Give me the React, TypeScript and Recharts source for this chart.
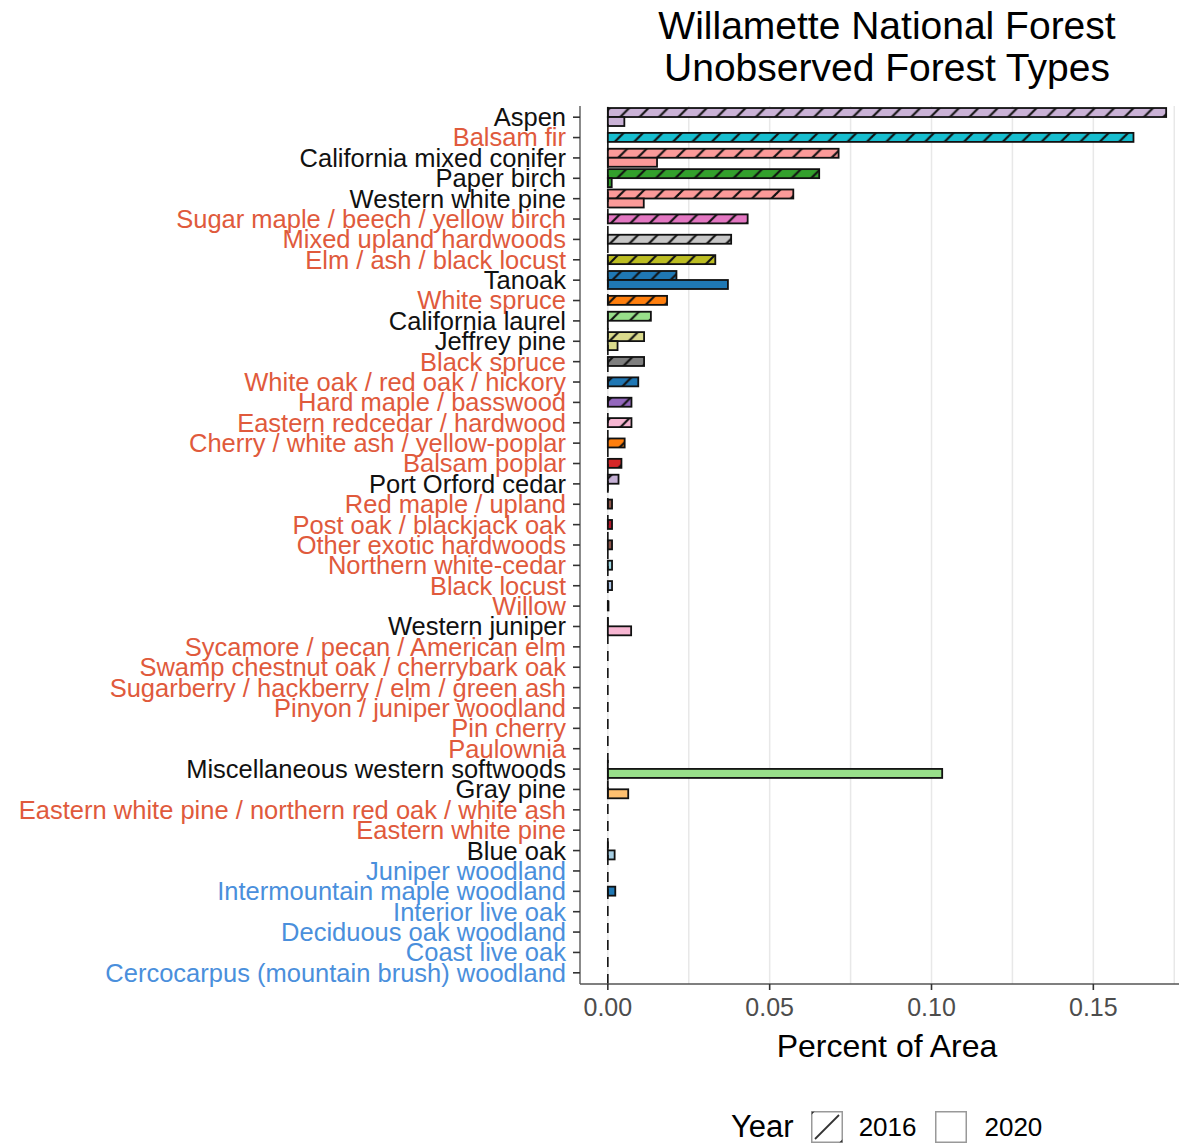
import React from 'react';
import { BarChart, Bar, XAxis, YAxis, CartesianGrid, ReferenceLine, Label } from 'recharts';

// forest types, top to bottom
const forestTypes = [
  'Aspen', 'Balsam fir', 'California mixed conifer', 'Paper birch', 'Western white pine',
  'Sugar maple / beech / yellow birch', 'Mixed upland hardwoods', 'Elm / ash / black locust',
  'Tanoak', 'White spruce', 'California laurel', 'Jeffrey pine', 'Black spruce',
  'White oak / red oak / hickory', 'Hard maple / basswood', 'Eastern redcedar / hardwood',
  'Cherry / white ash / yellow-poplar', 'Balsam poplar', 'Port Orford cedar', 'Red maple / upland',
  'Post oak / blackjack oak', 'Other exotic hardwoods', 'Northern white-cedar', 'Black locust',
  'Willow', 'Western juniper', 'Sycamore / pecan / American elm',
  'Swamp chestnut oak / cherrybark oak', 'Sugarberry / hackberry / elm / green ash',
  'Pinyon / juniper woodland', 'Pin cherry', 'Paulownia', 'Miscellaneous western softwoods',
  'Gray pine', 'Eastern white pine / northern red oak / white ash', 'Eastern white pine',
  'Blue oak', 'Juniper woodland', 'Intermountain maple woodland', 'Interior live oak',
  'Deciduous oak woodland', 'Coast live oak', 'Cercocarpus (mountain brush) woodland',
];

// label colour group: k = black, r = red, b = blue
const labelGroup = [
  'k', 'r', 'k', 'k', 'k', 'r', 'r', 'r', 'k', 'r', 'k', 'k', 'r', 'r', 'r', 'r', 'r', 'r', 'k', 'r',
  'r', 'r', 'r', 'r', 'r', 'k', 'r', 'r', 'r', 'r', 'r', 'r', 'k', 'k', 'r', 'r', 'k', 'b', 'b', 'b',
  'b', 'b', 'b',
];

// percent of area, null = not recorded
const y2016 = [
  0.1725, 0.1624, 0.0713, 0.0653, 0.0573, 0.0432, 0.0381, 0.0332, 0.0212, 0.0183, 0.0133, 0.0112,
  0.0112, 0.0094, 0.0073, 0.0073, 0.0052, 0.0042, 0.0033, 0.0013, 0.0013, 0.0013, 0.0013, 0.0013,
  0.0002, 0, null, null, null, null, null, null, 0, 0, null, null, 0, null, 0.0023, null, null,
  null, null,
];
const y2020 = [
  0.0051, null, 0.0152, 0.0012, 0.0111, null, null, null, 0.0371, null, 0, 0.0030, null, null, null,
  null, null, null, 0, null, null, null, null, null, null, 0.0072, null, null, null, null, null,
  null, 0.1033, 0.0063, null, null, 0.0021, null, null, null, null, null, null,
];

const barColors = [
  '#CAB2D6', '#17BECF', '#FB9A99', '#33A02C', '#FB9A99', '#E377C2', '#C7C7C7', '#BCBD22',
  '#1F78B4', '#FF7F0E', '#98DF8A', '#DBDB8D', '#7F7F7F', '#1F77B4', '#9467BD', '#F7B6D2',
  '#FF7F0E', '#D62728', '#C5B0D5', '#8C564B', '#B2182B', '#8C564B', '#9EDAE5', '#AEC7E8',
  '#E31A1C', '#F7B6D2', '#CCCCCC', '#CCCCCC', '#CCCCCC', '#CCCCCC', '#CCCCCC', '#CCCCCC',
  '#98DF8A', '#FDBF6F', '#CCCCCC', '#CCCCCC', '#A6CEE3', '#CCCCCC', '#1F78B4', '#CCCCCC',
  '#CCCCCC', '#CCCCCC', '#CCCCCC',
];

const xTicks = [0, 0.05, 0.1, 0.15];
const gridLines = [0, 0.025, 0.05, 0.075, 0.1, 0.125, 0.15, 0.175];
const xDomain = [-0.0086, 0.1811];

const labelColor: Record<string, string> = { k: '#111111', r: '#E05A3C', b: '#4A8FDC' };
const FONT = '"Liberation Sans", Arial, Helvetica, sans-serif';

const data = forestTypes.map((name, i) => ({
  name,
  y2016: y2016[i],
  y2020: y2020[i],
  color: barColors[i],
}));

// bar drawn alone in its row sits in the middle of the band
const makeShape = (key: 'y2016' | 'y2020', other: 'y2016' | 'y2020', dir: number, hatched: boolean) =>
  (props: any) => {
    const { x, y, width, height, payload } = props;
    if (!payload || payload[key] == null) return <g />;
    const shift = payload[other] == null ? (dir * height) / 2 : 0;
    const yy = y + shift;
    if (!width || width < 0.5) {
      return <line x1={x} x2={x} y1={yy} y2={yy + height} stroke="#111" strokeWidth={1.8} />;
    }
    return (
      <g>
        <rect x={x} y={yy} width={width} height={height} fill={payload.color} />
        {hatched && <rect x={x} y={yy} width={width} height={height} fill="url(#hatch2016)" />}
        <rect x={x} y={yy} width={width} height={height} fill="none" stroke="#111" strokeWidth={1.8} />
      </g>
    );
  };

const YTick = (props: any) => {
  const { x, y, payload } = props;
  const i = forestTypes.indexOf(payload.value);
  return (
    <text x={x} y={y} dy="0.35em" textAnchor="end" fill={labelColor[labelGroup[i]]}
      fontSize={25.5} fontFamily={FONT}>
      {payload.value}
    </text>
  );
};

const HatchBox = ({ hatched }: { hatched: boolean }) => (
  <svg width={32} height={32} style={{ display: 'block' }}>
    <rect x={0.75} y={0.75} width={30.5} height={30.5} fill="#fff" stroke="#999" strokeWidth={1.5} />
    {hatched && <rect x={0.75} y={0.75} width={30.5} height={30.5} fill="url(#hatchLegend)" />}
  </svg>
);

export default function App() {
  const s = 19.4;
  return (
    <div style={{ position: 'absolute', left: 0, top: 0, width: 1179, height: 1143, overflow: 'hidden',
      background: '#fff', fontFamily: FONT }}>
      <svg width={0} height={0} style={{ position: 'absolute' }}>
        <defs>
          <pattern id="hatch2016" patternUnits="userSpaceOnUse" width={s} height={s}>
            <line x1={0} y1={s} x2={s} y2={0} stroke="#111" strokeWidth={2.2} />
            <line x1={-2} y1={2} x2={2} y2={-2} stroke="#111" strokeWidth={2.2} />
            <line x1={s - 2} y1={s + 2} x2={s + 2} y2={s - 2} stroke="#111" strokeWidth={2.2} />
          </pattern>
          <pattern id="hatchLegend" patternUnits="userSpaceOnUse" width={32} height={32}>
            <line x1={4} y1={28} x2={28} y2={4} stroke="#333" strokeWidth={1.8} />
            <line x1={-3} y1={6} x2={6} y2={-3} stroke="#333" strokeWidth={1.8} />
            <line x1={26} y1={35} x2={35} y2={26} stroke="#333" strokeWidth={1.8} />
          </pattern>
        </defs>
      </svg>

      <div style={{ position: 'absolute', left: 580, top: 5, width: 614, textAlign: 'center',
        fontSize: 39, lineHeight: '42px', color: '#000' }}>
        Willamette National Forest<br />Unobserved Forest Types
      </div>

      <BarChart width={1196} height={1143} data={data} layout="vertical"
        margin={{ top: 106, right: 2, bottom: 79, left: 0 }} barCategoryGap="5%" barGap={0}>
        <CartesianGrid xAxisId="grid" horizontal={false} stroke="#E8E8E8" strokeWidth={1.5} />
        <XAxis xAxisId="grid" hide type="number" domain={xDomain} allowDataOverflow ticks={gridLines} />
        <XAxis type="number" domain={xDomain} allowDataOverflow ticks={xTicks}
          tickFormatter={(v: number) => v.toFixed(2)} tickSize={6} tickMargin={8} height={80}
          tick={{ fill: '#4D4D4D', fontSize: 25, fontFamily: FONT }}
          tickLine={{ stroke: '#333', strokeWidth: 1.6 }} axisLine={{ stroke: '#555', strokeWidth: 1.3 }}>
          <Label value="Percent of Area" position="insideBottom" offset={7} fill="#000"
            fontSize={32} fontFamily={FONT} />
        </XAxis>
        <XAxis xAxisId="top" orientation="top" type="number" domain={xDomain} height={0}
          tick={false} tickLine={false} axisLine={{ stroke: '#555', strokeWidth: 1.3 }} />
        <YAxis type="category" dataKey="name" width={580} interval={0} tickSize={7} tickMargin={7}
          padding={{ top: 1, bottom: 1 }} tick={<YTick />}
          tickLine={{ stroke: '#333', strokeWidth: 1.6 }} axisLine={{ stroke: '#555', strokeWidth: 1.3 }} />
        <ReferenceLine x={0} stroke="#111" strokeWidth={1.6} strokeDasharray="10 7" />
        <Bar dataKey="y2016" isAnimationActive={false} shape={makeShape('y2016', 'y2020', 1, true)} />
        <Bar dataKey="y2020" isAnimationActive={false} shape={makeShape('y2020', 'y2016', -1, false)} />
      </BarChart>

      <div style={{ position: 'absolute', left: 731, top: 1109, display: 'flex', alignItems: 'center',
        fontSize: 26, color: '#000' }}>
        <span style={{ fontSize: 31, marginRight: 17 }}>Year</span>
        <HatchBox hatched />
        <span style={{ marginLeft: 16, marginRight: 19 }}>2016</span>
        <HatchBox hatched={false} />
        <span style={{ marginLeft: 17 }}>2020</span>
      </div>
    </div>
  );
}
